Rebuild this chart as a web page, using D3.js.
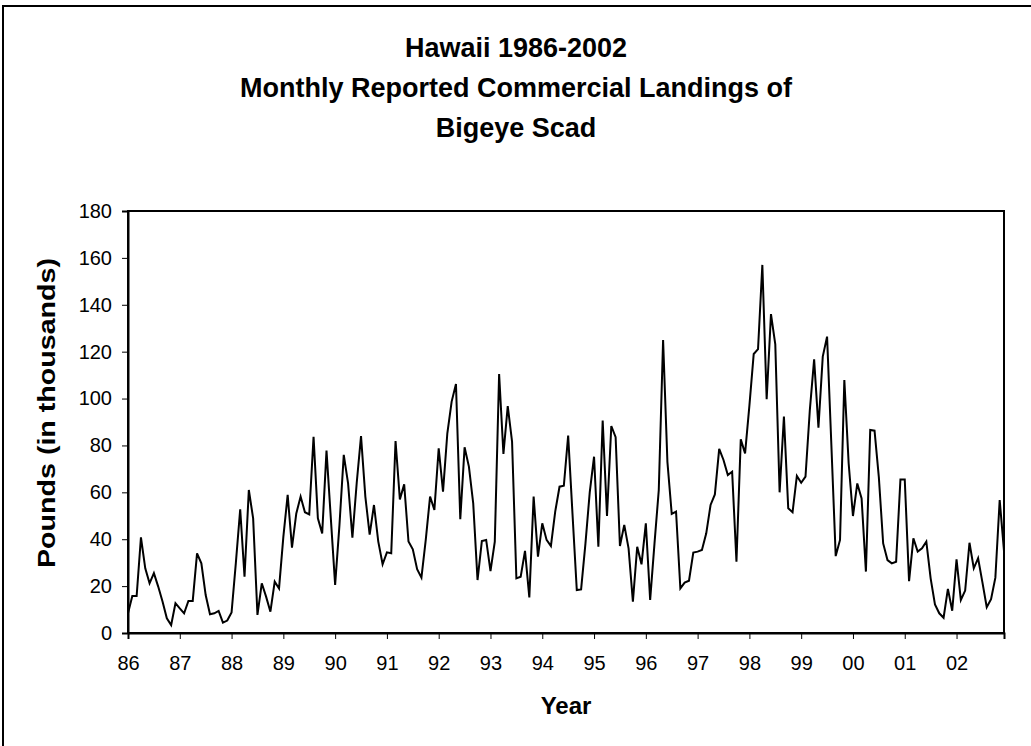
<!DOCTYPE html>
<html>
<head>
<meta charset="utf-8">
<script src="https://cdn.jsdelivr.net/npm/d3@7"></script>
<style>
  body { margin: 0; background: #fff; }
  text { font-family: "Liberation Sans", Arial, sans-serif; }
</style>
</head>
<body>
<div id="chart"></div>
<script>
// Monthly landings (thousands of pounds), Jan 1986 - Dec 2002
const years = ["86","87","88","89","90","91","92","93","94","95","96","97","98","99","00","01","02"];
const y1986 = [8.4, 15.8, 15.8, 40.8, 27.6, 21.2, 25.5, 19.8, 13.4, 6.3, 3.4, 12.7];
const y1987 = [10.5, 8.4, 13.7, 13.7, 34, 29.7, 16.2, 8, 8.4, 9.4, 4.4, 5.3];
const y1988 = [8.8, 30, 52.8, 24, 61, 48.9, 7.7, 21.2, 15.5, 9.1, 21.9, 19];
const y1989 = [41, 58.9, 36.4, 51, 58.2, 51.5, 50.6, 83.7, 48.9, 42.5, 77.8, 49];
const y1990 = [20.5, 46, 76, 63.8, 40.7, 64, 84, 58.2, 42, 54.6, 39, 29.3];
const y1991 = [34.4, 34, 81.9, 57, 63.4, 39, 35.7, 27.2, 23.6, 39.7, 58.2, 52.5];
const y1992 = [78.8, 60.3, 85.2, 98.7, 106.2, 48.5, 79.2, 71, 55.3, 22.6, 39.2, 39.7];
const y1993 = [26.4, 39, 110.5, 76.4, 96.8, 81.6, 23.3, 24, 35, 15.2, 58.2, 32.6];
const y1994 = [46.8, 39.7, 37.1, 51.8, 62.4, 62.8, 84.2, 51, 18.3, 18.6, 38, 60];
const y1995 = [75.2, 36.8, 90.6, 49.9, 88.3, 83.5, 37.1, 46.1, 36.1, 13.4, 36.8, 29.3];
const y1996 = [46.8, 14.1, 38, 61, 125, 73, 50.8, 51.8, 19, 21.5, 22.3, 34.3];
const y1997 = [34.7, 35.4, 42.5, 54.6, 59.1, 78.5, 73.8, 67.4, 68.8, 30.4, 82.6, 76.6];
const y1998 = [97, 119, 121.1, 157, 99.7, 136, 123.1, 60, 92.3, 53.2, 51.5, 67];
const y1999 = [64.1, 66.7, 95, 116.7, 87.6, 117.9, 126.4, 80, 32.8, 39.7, 107.9, 72.4];
const y2000 = [49.9, 63.8, 57.4, 26.2, 86.6, 86.3, 66.4, 38.2, 31.1, 29.7, 30.4, 65.5];
const y2001 = [65.5, 22.1, 40.4, 34.7, 36.1, 39, 23.3, 12.2, 8.4, 6.5, 18.8, 9.5];
const y2002 = [31.4, 14.1, 18.1, 38.5, 27.6, 31.9, 21.6, 11, 14.4, 23.6, 56.7, 35];
const yTicks = [0, 20, 40, 60, 80, 100, 120, 140, 160, 180];

const landings = [].concat(y1986, y1987, y1988, y1989, y1990, y1991, y1992, y1993, y1994,
    y1995, y1996, y1997, y1998, y1999, y2000, y2001, y2002);

const W = 1031, H = 746;
const margin = { top: 211, right: 27, bottom: 113, left: 128 };
const width = W - margin.left - margin.right;
const height = H - margin.top - margin.bottom;

const svg = d3.select("#chart")
    .append("svg")
    .attr("width", W)
    .attr("height", H);

// Outer chart frame (right and bottom edges run off the page)
svg.append("rect")
    .attr("x", 3).attr("y", 6)
    .attr("width", 1040).attr("height", 780)
    .attr("fill", "none")
    .attr("stroke", "#000")
    .attr("stroke-width", 2);

// Title
const title = ["Hawaii 1986-2002", "Monthly Reported Commercial Landings of", "Bigeye Scad"];
svg.append("g").selectAll("text")
    .data(title)
    .enter()
    .append("text")
    .attr("x", 516)
    .attr("y", (d, i) => 57 + i * 40)
    .attr("text-anchor", "middle")
    .style("font-size", "27px")
    .style("font-weight", "bold")
    .text(d => d);

const g = svg.append("g")
    .attr("transform", `translate(${margin.left},${margin.top})`);

// Scales
const x = d3.scaleLinear()
    .domain([0, landings.length - 1])
    .range([0, width]);

const y = d3.scaleLinear()
    .domain([0, 180])
    .range([height, 0]);

// Plot border
g.append("rect")
    .attr("width", width)
    .attr("height", height)
    .attr("fill", "none")
    .attr("stroke", "#000")
    .attr("stroke-width", 2);

// Y axis
const yAxis = g.append("g")
    .call(d3.axisLeft(y).tickValues(yTicks).tickSize(6).tickPadding(10));
yAxis.select(".domain").attr("stroke-width", 2);
yAxis.selectAll("text").style("font-size", "20px").attr("fill", "#000");

// X axis: one tick per January
const xAxis = g.append("g")
    .attr("transform", `translate(0,${height})`)
    .call(d3.axisBottom(x)
        .tickValues(years.map((d, i) => i * 12))
        .tickFormat((d, i) => years[i])
        .tickSize(6).tickPadding(17));
xAxis.select(".domain").attr("stroke-width", 2);
xAxis.selectAll("text").style("font-size", "20px").attr("fill", "#000");

// Data line
const line = d3.line()
    .x((d, i) => x(i))
    .y(d => y(d));

g.append("path")
    .datum(landings)
    .attr("fill", "none")
    .attr("stroke", "#000")
    .attr("stroke-width", 2)
    .attr("d", line);

// X-axis label
svg.append("text")
    .attr("text-anchor", "middle")
    .attr("x", margin.left + width / 2)
    .attr("y", 714)
    .text("Year")
    .style("font-size", "24px")
    .style("font-weight", "bold");

// Y-axis label
svg.append("text")
    .attr("text-anchor", "middle")
    .attr("transform", "rotate(-90)")
    .attr("x", -413)
    .attr("y", 55)
    .attr("textLength", 310)
    .attr("lengthAdjust", "spacingAndGlyphs")
    .text("Pounds (in thousands)")
    .style("font-size", "24px")
    .style("font-weight", "bold");
</script>
</body>
</html>
